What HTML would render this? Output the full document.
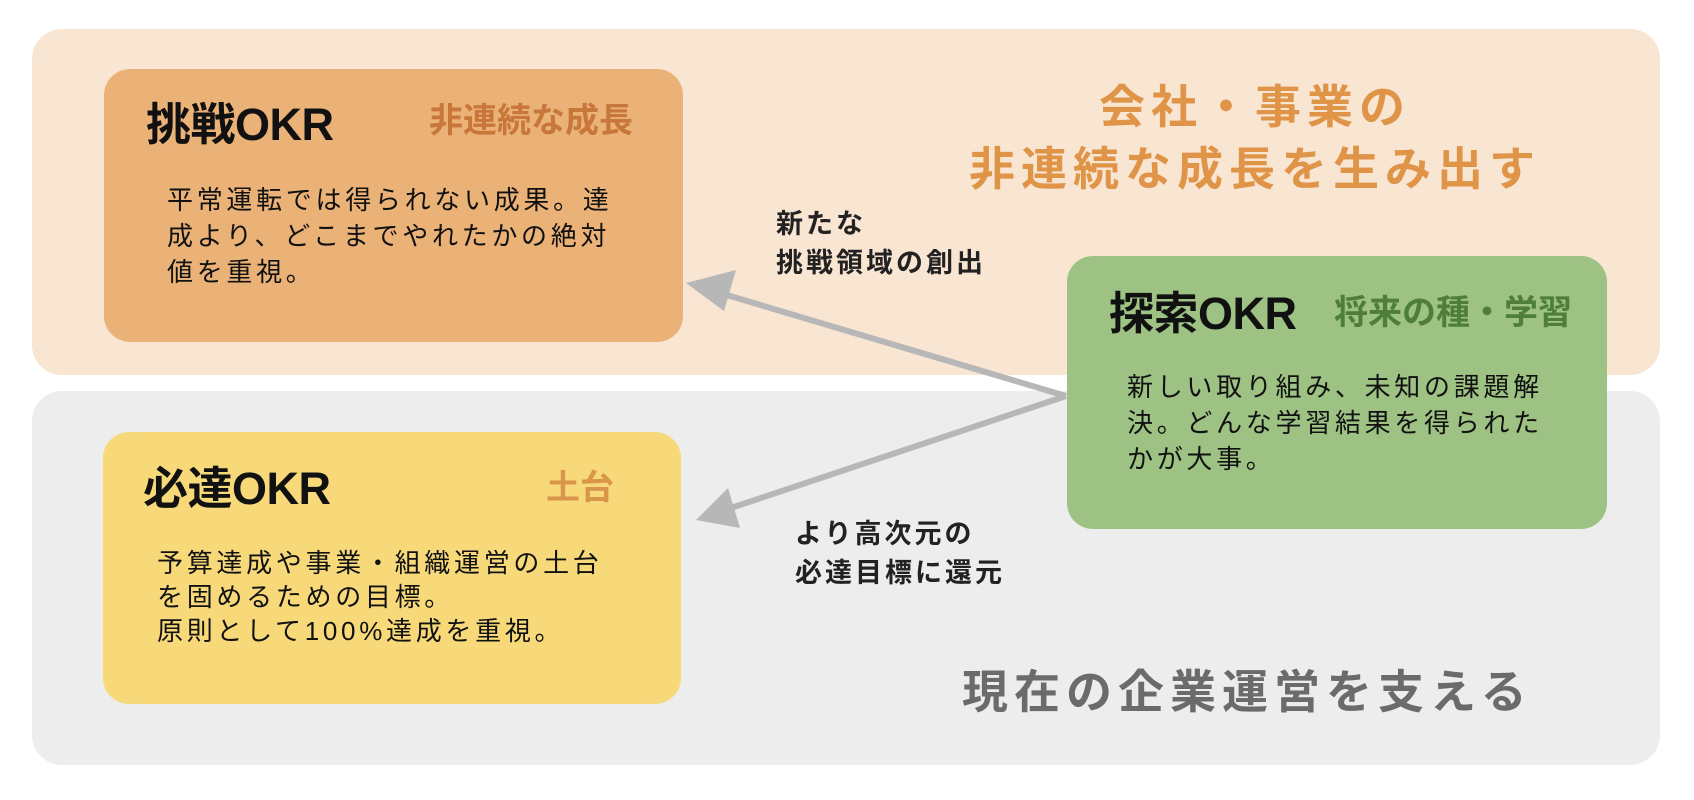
<!DOCTYPE html>
<html><head><meta charset="utf-8"><style>
body{margin:0;width:1694px;height:800px;background:#fff;position:relative;overflow:hidden;font-family:"Liberation Sans","Noto Sans CJK JP",sans-serif;}
div{position:absolute;white-space:nowrap;}
.t{font-weight:bold;font-size:45px;line-height:50px;color:#111;letter-spacing:-0.5px;}
.s{font-weight:bold;font-size:34px;line-height:40px;}
.b{font-size:26px;line-height:36px;letter-spacing:3.7px;color:#111;}
.l{font-weight:bold;font-size:27px;line-height:39px;color:#222;letter-spacing:3px;}
</style></head><body>
<div style="left:32px;top:29px;width:1628px;height:346px;background:#f8e5d2;border-radius:30px"></div>
<div style="left:32px;top:391px;width:1628px;height:374px;background:#ededed;border-radius:30px"></div>
<div style="left:104px;top:69px;width:579px;height:273px;background:#ebb278;border-radius:26px"></div>
<div style="left:103px;top:432px;width:578px;height:272px;background:#f7d97a;border-radius:26px"></div>
<div style="left:1067px;top:256px;width:540px;height:273px;background:#9dc283;border-radius:26px"></div>
<svg style="position:absolute;left:0;top:0" width="1694" height="800">
<line x1="1066" y1="396" x2="720" y2="293" stroke="#b7b7b7" stroke-width="6"/>
<polygon points="686,283 736,270 724,311" fill="#b7b7b7"/>
<line x1="1066" y1="396" x2="728" y2="509" stroke="#b7b7b7" stroke-width="6"/>
<polygon points="696,520 728,488 740,528" fill="#b7b7b7"/>
</svg>
<div style="left:1255px;top:76px;transform:translateX(-50%);text-align:center;font-weight:bold;font-size:46px;line-height:62px;letter-spacing:6px;color:#df9447">会社・事業の<br>非連続な成長を生み出す</div>
<div style="left:962px;top:662px;font-weight:bold;font-size:46px;line-height:60px;letter-spacing:6px;color:#6b6b6b">現在の企業運営を支える</div>
<div class="t" style="left:146px;top:100px">挑戦OKR</div>
<div class="s" style="left:429px;top:101px;color:#c8773a">非連続な成長</div>
<div class="b" style="left:167px;top:182px">平常運転では得られない成果。達<br>成より、どこまでやれたかの絶対<br>値を重視。</div>
<div class="t" style="left:143px;top:464px">必達OKR</div>
<div class="s" style="left:546px;top:468px;color:#d9954a">土台</div>
<div class="b" style="left:157px;top:546px;line-height:34px">予算達成や事業・組織運営の土台<br>を固めるための目標。<br>原則として100%達成を重視。</div>
<div class="t" style="left:1109px;top:289px">探索OKR</div>
<div class="s" style="left:1334px;top:293px;color:#4e7e3a">将来の種・学習</div>
<div class="b" style="left:1127px;top:369px">新しい取り組み、未知の課題解<br>決。どんな学習結果を得られた<br>かが大事。</div>
<div class="l" style="left:776px;top:205px">新たな<br>挑戦領域の創出</div>
<div class="l" style="left:795px;top:515px">より高次元の<br>必達目標に還元</div>
</body></html>
